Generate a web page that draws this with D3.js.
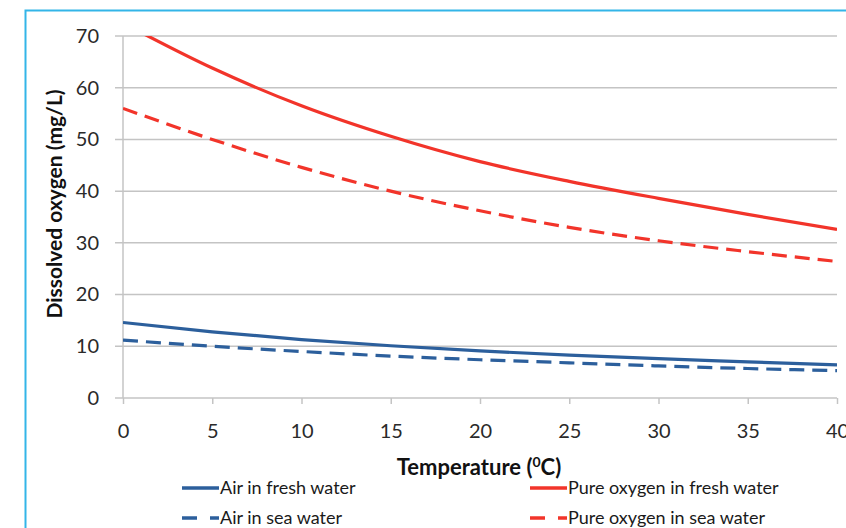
<!DOCTYPE html>
<html>
<head>
<meta charset="utf-8">
<script src="https://cdn.jsdelivr.net/npm/d3@7"></script>
<style>
  body { margin: 0; background: #fff; }
  text { font-family: Lato, "Open Sans", sans-serif; }
</style>
</head>
<body>
<div id="chart"></div>
<script>
"use strict";

const width = 846;
const height = 528;

// temperature in degrees C
const temps = [0, 5, 10, 15, 20, 25, 30, 35, 40];

// dissolved oxygen, mg/L
const airFresh = [14.6, 12.8, 11.3, 10.1, 9.1, 8.3, 7.6, 7.0, 6.4];
const airSea = [11.2, 10.0, 9.0, 8.1, 7.4, 6.8, 6.2, 5.7, 5.3];
const pureFresh = [72.5, 63.8, 56.5, 50.6, 45.7, 41.9, 38.6, 35.5, 32.6];
const pureSea = [56.0, 50.0, 44.6, 40.0, 36.2, 33.0, 30.4, 28.3, 26.4];

const xTicks = [0, 5, 10, 15, 20, 25, 30, 35, 40];
const yTicks = [0, 10, 20, 30, 40, 50, 60, 70];

const series = [
  { name: "Air in fresh water", values: airFresh, color: "#2c5f9c", dash: null },
  { name: "Pure oxygen in fresh water", values: pureFresh, color: "#f2342a", dash: null },
  { name: "Air in sea water", values: airSea, color: "#2c5f9c", dash: "15,8" },
  { name: "Pure oxygen in sea water", values: pureSea, color: "#f2342a", dash: "15,8" }
];

const margin = { left: 123, right: 9, top: 36, bottom: 130 };

const x = d3.scaleLinear()
  .domain([0, 40])
  .range([margin.left, width - margin.right]);

const y = d3.scaleLinear()
  .domain([0, 70])
  .range([height - margin.bottom, margin.top]);

const svg = d3.select("#chart").append("svg")
  .attr("width", width)
  .attr("height", height);

// light blue frame
svg.append("path")
  .attr("d", "M 25.5 " + height + " L 25.5 10.5 L " + width + " 10.5")
  .attr("fill", "none")
  .attr("stroke", "#33b5e8")
  .attr("stroke-width", 2);

svg.append("defs").append("clipPath")
  .attr("id", "plot-clip")
  .append("rect")
  .attr("x", margin.left)
  .attr("y", margin.top)
  .attr("width", width - margin.right - margin.left)
  .attr("height", height - margin.bottom - margin.top);

// horizontal gridlines
svg.append("g")
  .selectAll("line")
  .data(yTicks)
  .join("line")
  .attr("x1", margin.left - 8)
  .attr("x2", width - margin.right)
  .attr("y1", d => y(d))
  .attr("y2", d => y(d))
  .attr("stroke", "#c4c4c4")
  .attr("stroke-width", 1.5);

// y axis line
svg.append("line")
  .attr("x1", margin.left)
  .attr("x2", margin.left)
  .attr("y1", y(70))
  .attr("y2", y(0))
  .attr("stroke", "#c4c4c4")
  .attr("stroke-width", 1.5);

const yAxis = svg.append("g")
  .attr("transform", "translate(" + (margin.left - 8) + ",0)")
  .call(d3.axisLeft(y).tickValues(yTicks).tickSize(0).tickPadding(16));
yAxis.select(".domain").remove();
yAxis.selectAll("text")
  .attr("font-size", 20)
  .attr("fill", "#2a2a2a");

const xAxis = svg.append("g")
  .attr("transform", "translate(0," + y(0) + ")")
  .call(d3.axisBottom(x).tickValues(xTicks).tickSize(6).tickPadding(20));
xAxis.select(".domain").remove();
xAxis.selectAll("line")
  .attr("stroke", "#c4c4c4")
  .attr("stroke-width", 1.5);
xAxis.selectAll("text")
  .attr("font-size", 20)
  .attr("fill", "#2a2a2a");

// axis titles
svg.append("text")
  .attr("transform", "translate(62,204) rotate(-90)")
  .attr("text-anchor", "middle")
  .attr("font-size", 21)
  .attr("font-weight", "bold")
  .attr("fill", "#111")
  .text("Dissolved oxygen (mg/L)");

const xTitle = svg.append("text")
  .attr("x", 479)
  .attr("y", 475)
  .attr("text-anchor", "middle")
  .attr("font-size", 22)
  .attr("font-weight", "bold")
  .attr("fill", "#111");
xTitle.append("tspan").text("Temperature (");
xTitle.append("tspan").attr("font-size", 14).attr("dy", -8).text("0");
xTitle.append("tspan").attr("dy", 8).text("C)");

// lines
const line = d3.line()
  .x((d, i) => x(temps[i]))
  .y(d => y(d))
  .curve(d3.curveMonotoneX);

svg.append("g")
  .attr("clip-path", "url(#plot-clip)")
  .selectAll("path")
  .data(series)
  .join("path")
  .attr("d", d => line(d.values))
  .attr("fill", "none")
  .attr("stroke", d => d.color)
  .attr("stroke-width", 3.2)
  .attr("stroke-dasharray", d => d.dash);

// legend
const legendPos = [
  [182, 488], [530, 488], [182, 518], [530, 518]
];

const legend = svg.append("g")
  .selectAll("g")
  .data(series)
  .join("g")
  .attr("transform", (d, i) => "translate(" + legendPos[i][0] + "," + legendPos[i][1] + ")");

legend.append("line")
  .attr("x1", 0)
  .attr("x2", 37)
  .attr("y1", 0)
  .attr("y2", 0)
  .attr("stroke", d => d.color)
  .attr("stroke-width", 3.5)
  .attr("stroke-dasharray", d => d.dash ? "15,40" : null);

legend.filter(d => d.dash).append("line")
  .attr("x1", 28)
  .attr("x2", 37)
  .attr("y1", 0)
  .attr("y2", 0)
  .attr("stroke", d => d.color)
  .attr("stroke-width", 3.5);

legend.append("text")
  .attr("x", 38)
  .attr("y", 6)
  .attr("font-size", 18)
  .attr("fill", "#1a1a1a")
  .text(d => d.name);
</script>
</body>
</html>
